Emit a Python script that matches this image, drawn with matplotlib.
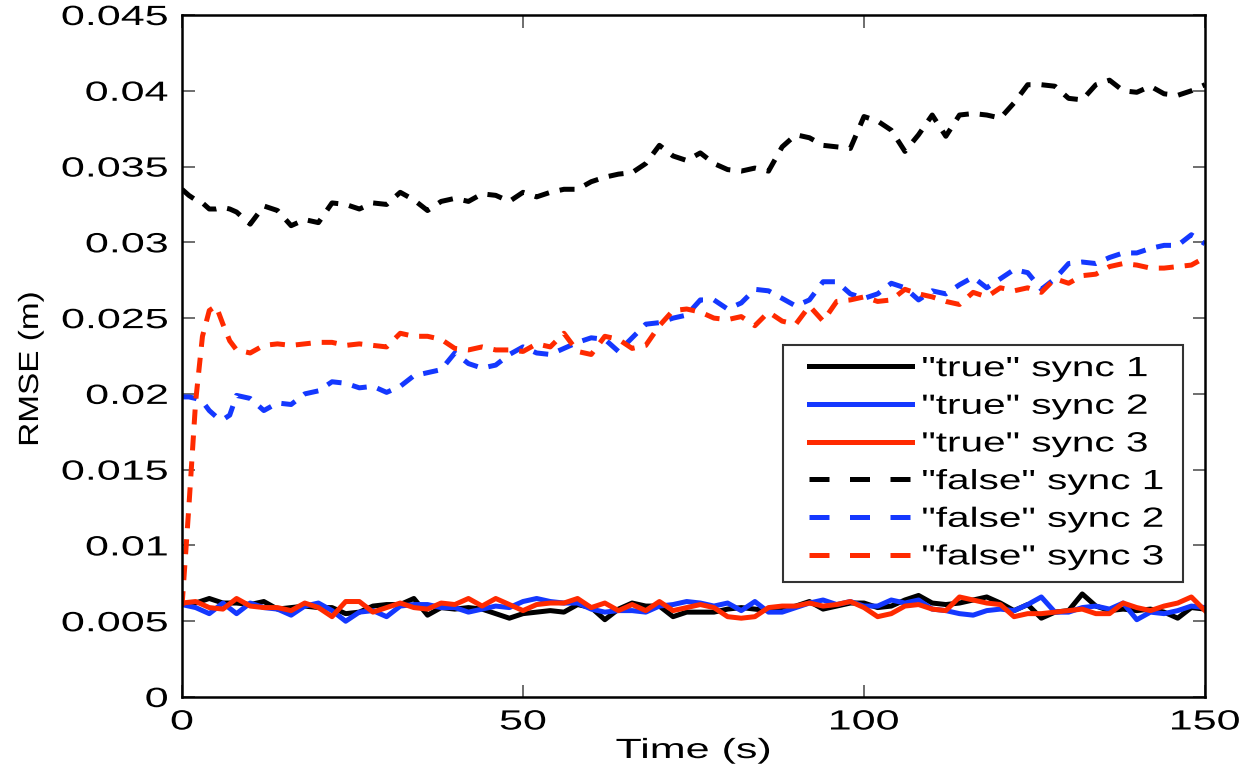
import numpy as np
import matplotlib
matplotlib.use("Agg")
import matplotlib.pyplot as plt
from matplotlib.ticker import FuncFormatter
from matplotlib.patheffects import AbstractPathEffect
from matplotlib.transforms import Affine2D
from matplotlib.lines import Line2D
from matplotlib.legend_handler import HandlerLine2D

# Time stamps (s)
t_true = list(range(0, 151, 2))
t_false = [0, 1, 2, 3, 4, 5, 6, 7, 8] + list(range(10, 151, 2))

# RMSE (m) with "true" synchronisation
true_sync1 = [0.0061, 0.0062, 0.0065, 0.0062, 0.0062, 0.0061, 0.0063, 0.0058, 0.0059, 0.0060,
              0.0059, 0.0059, 0.0055, 0.0056, 0.0060, 0.0061, 0.0061, 0.0065, 0.0054, 0.0059,
              0.0058, 0.0059, 0.0058, 0.0055, 0.0052, 0.0055, 0.0056, 0.0057, 0.0056, 0.0061,
              0.0059, 0.0051, 0.0058, 0.0062, 0.0060, 0.0060, 0.0053, 0.0056, 0.0056, 0.0056,
              0.0058, 0.0059, 0.0058, 0.0057, 0.0058, 0.0060, 0.0063, 0.0058, 0.0060, 0.0062,
              0.0062, 0.0059, 0.0060, 0.0064, 0.0067, 0.0062, 0.0061, 0.0062, 0.0064, 0.0066,
              0.0062, 0.0057, 0.0061, 0.0052, 0.0056, 0.0057, 0.0068, 0.0060, 0.0057, 0.0058,
              0.0057, 0.0058, 0.0056, 0.0052, 0.0059, 0.0058]
true_sync2 = [0.0061, 0.0059, 0.0055, 0.0062, 0.0055, 0.0062, 0.0059, 0.0058, 0.0054, 0.0060,
              0.0062, 0.0057, 0.0050, 0.0056, 0.0057, 0.0053, 0.0060, 0.0061, 0.0061, 0.0059,
              0.0059, 0.0056, 0.0058, 0.0060, 0.0059, 0.0063, 0.0065, 0.0063, 0.0062, 0.0062,
              0.0058, 0.0056, 0.0057, 0.0057, 0.0056, 0.0060, 0.0061, 0.0063, 0.0062, 0.0060,
              0.0062, 0.0057, 0.0063, 0.0056, 0.0056, 0.0059, 0.0062, 0.0064, 0.0061, 0.0063,
              0.0060, 0.0060, 0.0064, 0.0062, 0.0064, 0.0058, 0.0057, 0.0055, 0.0054, 0.0057,
              0.0058, 0.0057, 0.0061, 0.0066, 0.0056, 0.0056, 0.0059, 0.0060, 0.0058, 0.0062,
              0.0051, 0.0056, 0.0055, 0.0057, 0.0060, 0.0059]
true_sync3 = [0.0062, 0.0063, 0.0059, 0.0058, 0.0065, 0.0060, 0.0059, 0.0059, 0.0057, 0.0062,
              0.0059, 0.0053, 0.0063, 0.0063, 0.0056, 0.0059, 0.0062, 0.0059, 0.0058, 0.0062,
              0.0061, 0.0065, 0.0060, 0.0065, 0.0061, 0.0057, 0.0061, 0.0062, 0.0062, 0.0065,
              0.0059, 0.0062, 0.0057, 0.0061, 0.0057, 0.0063, 0.0057, 0.0059, 0.0061, 0.0059,
              0.0053, 0.0052, 0.0053, 0.0059, 0.0060, 0.0060, 0.0062, 0.0060, 0.0061, 0.0063,
              0.0059, 0.0053, 0.0055, 0.0060, 0.0061, 0.0058, 0.0057, 0.0066, 0.0064, 0.0062,
              0.0061, 0.0053, 0.0055, 0.0055, 0.0056, 0.0057, 0.0058, 0.0055, 0.0055, 0.0062,
              0.0059, 0.0057, 0.0060, 0.0062, 0.0066, 0.0057]

# RMSE (m) with "false" synchronisation
false_sync1 = [0.0335, 0.0331, 0.0328, 0.0326, 0.0322, 0.0322, 0.0323, 0.0322, 0.0320,
               0.0312, 0.0324, 0.0321, 0.0311, 0.0315, 0.0313, 0.0326, 0.0325, 0.0322, 0.0326,
               0.0325, 0.0333, 0.0328, 0.0321, 0.0327, 0.0329, 0.0327, 0.0332, 0.0331, 0.0327,
               0.0333, 0.0330, 0.0333, 0.0335, 0.0335, 0.0340, 0.0343, 0.0345, 0.0346, 0.0352,
               0.0364, 0.0357, 0.0354, 0.0359, 0.0352, 0.0348, 0.0347, 0.0349, 0.0347, 0.0363,
               0.0371, 0.0369, 0.0364, 0.0363, 0.0362, 0.0383, 0.0380, 0.0374, 0.0360, 0.0371,
               0.0384, 0.0370, 0.0384, 0.0385, 0.0384, 0.0382, 0.0392, 0.0404, 0.0404, 0.0403,
               0.0395, 0.0394, 0.0404, 0.0407, 0.0400, 0.0399, 0.0403, 0.0398, 0.0397, 0.0400,
               0.0404]
false_sync2 = [0.0198, 0.0198, 0.0197, 0.0195, 0.0189, 0.0185, 0.0183, 0.0186, 0.0199,
               0.0197, 0.0189, 0.0194, 0.0193, 0.0200, 0.0202, 0.0208, 0.0207, 0.0204, 0.0205,
               0.0201, 0.0205, 0.0212, 0.0214, 0.0216, 0.0227, 0.0220, 0.0217, 0.0219, 0.0226,
               0.0231, 0.0227, 0.0226, 0.0230, 0.0234, 0.0237, 0.0236, 0.0228, 0.0237, 0.0246,
               0.0247, 0.0250, 0.0252, 0.0262, 0.0262, 0.0256, 0.0260, 0.0269, 0.0268, 0.0263,
               0.0258, 0.0262, 0.0274, 0.0274, 0.0266, 0.0263, 0.0266, 0.0273, 0.0270, 0.0262,
               0.0268, 0.0266, 0.0272, 0.0277, 0.0270, 0.0276, 0.0282, 0.0280, 0.0269, 0.0276,
               0.0286, 0.0287, 0.0286, 0.0290, 0.0293, 0.0293, 0.0296, 0.0298, 0.0298, 0.0305,
               0.0299]
false_sync3 = [0.0060, 0.0125, 0.0195, 0.0238, 0.0255, 0.0258, 0.0246, 0.0235, 0.0229,
               0.0227, 0.0232, 0.0233, 0.0232, 0.0233, 0.0234, 0.0234, 0.0232, 0.0233, 0.0232,
               0.0231, 0.0240, 0.0238, 0.0238, 0.0236, 0.0230, 0.0229, 0.0231, 0.0229, 0.0229,
               0.0228, 0.0233, 0.0231, 0.0240, 0.0228, 0.0226, 0.0238, 0.0236, 0.0230, 0.0232,
               0.0245, 0.0255, 0.0256, 0.0254, 0.0250, 0.0249, 0.0251, 0.0245, 0.0254, 0.0248,
               0.0246, 0.0258, 0.0248, 0.0261, 0.0262, 0.0264, 0.0261, 0.0262, 0.0269, 0.0266,
               0.0264, 0.0261, 0.0259, 0.0267, 0.0264, 0.0270, 0.0268, 0.0270, 0.0267, 0.0276,
               0.0273, 0.0278, 0.0279, 0.0284, 0.0286, 0.0285, 0.0283, 0.0283, 0.0284, 0.0285,
               0.0290]

labels = ['"true" sync 1', '"true" sync 2', '"true" sync 3',
          '"false" sync 1', '"false" sync 2', '"false" sync 3']
colors = ['#000000', '#1438ff', '#ff2a00']

x_ticks = [0, 50, 100, 150]
y_ticks = [0, 0.005, 0.01, 0.015, 0.02, 0.025, 0.03, 0.035, 0.04, 0.045]


class WideText(AbstractPathEffect):
    """Draw text glyphs rescaled (widened) about a chosen reference point."""

    def __init__(self, sx=1.5, sy=1.0, anchor='center'):
        super().__init__()
        self.sx = sx
        self.sy = sy
        self.anchor = anchor

    def draw_path(self, renderer, gc, tpath, affine, rgbFace=None):
        ext = tpath.get_extents(affine)
        if self.anchor == 'right':
            x0 = ext.x1
        elif self.anchor == 'left':
            x0 = ext.x0
        else:
            x0 = 0.5 * (ext.x0 + ext.x1)
        y0 = 0.5 * (ext.y0 + ext.y1)
        widen = (Affine2D().translate(-x0, -y0).scale(self.sx, self.sy)
                 .translate(x0, y0))
        renderer.draw_path(gc, tpath, affine + widen, rgbFace)


SX = 1.55
SX_LEG = 1.46
FS = 20
LW = 3.6

plt.rcParams['font.family'] = ['Liberation Sans', 'DejaVu Sans']

fig = plt.figure(figsize=(12.48, 7.70), dpi=100)
ax = fig.add_axes([182 / 1248, 1 - 697 / 770, (1205 - 182) / 1248, (697 - 15) / 770])

for vals, c in zip([true_sync1, true_sync2, true_sync3], colors):
    ax.plot(t_true, vals, color=c, lw=LW, solid_joinstyle='round')
for vals, c in zip([false_sync1, false_sync2, false_sync3], colors):
    ax.plot(t_false, vals, color=c, lw=LW, linestyle=(0, (3, 2.2)), dash_capstyle='butt')

ax.set_xlim(0, 150)
ax.set_ylim(0, 0.045)
ax.set_xticks(x_ticks)
ax.set_yticks(y_ticks)
ax.yaxis.set_major_formatter(FuncFormatter(lambda v, p: '0' if v == 0 else ('%g' % v)))
ax.tick_params(direction='in', length=9, width=1.2, labelsize=FS, top=True, right=True,
               colors='#555555', labelcolor='black')
ax.tick_params(axis='x', pad=9)
ax.tick_params(axis='y', pad=10)
for s in ax.spines.values():
    s.set_linewidth(1.8)
    s.set_color('black')

ax.set_xlabel('Time (s)', fontsize=FS, va='top')
ax.xaxis.set_label_coords(0.5, (697 - 738) / 682)
ax.set_ylabel('RMSE (m)', fontsize=FS)
ax.yaxis.set_label_coords((44 - 182) / 1023, 0.5 - 13 / 682)

fig.canvas.draw()
for lab in ax.get_xticklabels():
    lab.set_path_effects([WideText(SX, 1.0, 'center')])
for lab in ax.get_yticklabels():
    lab.set_path_effects([WideText(SX, 1.0, 'right')])
ax.xaxis.label.set_path_effects([WideText(SX, 1.0, 'center')])
ax.yaxis.label.set_path_effects([WideText(1.0, 1.2, 'center')])

# Legend entries: solid for "true", long dashes for "false"
handles = [Line2D([], [], color=c, lw=LW) for c in colors]
handles += [Line2D([], [], color=c, lw=LW, linestyle=(0, (4, 4.1)), dash_capstyle='butt')
            for c in colors]

lx0 = (783 - 182) / 1023
lx1 = (1183 - 182) / 1023
ly1 = (697 - 345) / 682
ly0 = (697 - 578) / 682
leg = ax.legend(handles, labels, loc='upper left',
                bbox_to_anchor=(lx0, ly0, lx1 - lx0, ly1 - ly0),
                mode='expand', fontsize=FS, frameon=True, fancybox=False,
                edgecolor='black', handlelength=4.24, handletextpad=0.36, borderpad=0.4,
                labelspacing=0.42, borderaxespad=0,
                handler_map={Line2D: HandlerLine2D(xpad=0.54)})
leg.get_frame().set_linewidth(1.5)
for txt in leg.get_texts():
    txt.set_path_effects([WideText(SX_LEG, 1.0, 'left')])

fig.savefig('out.png', dpi=100)
